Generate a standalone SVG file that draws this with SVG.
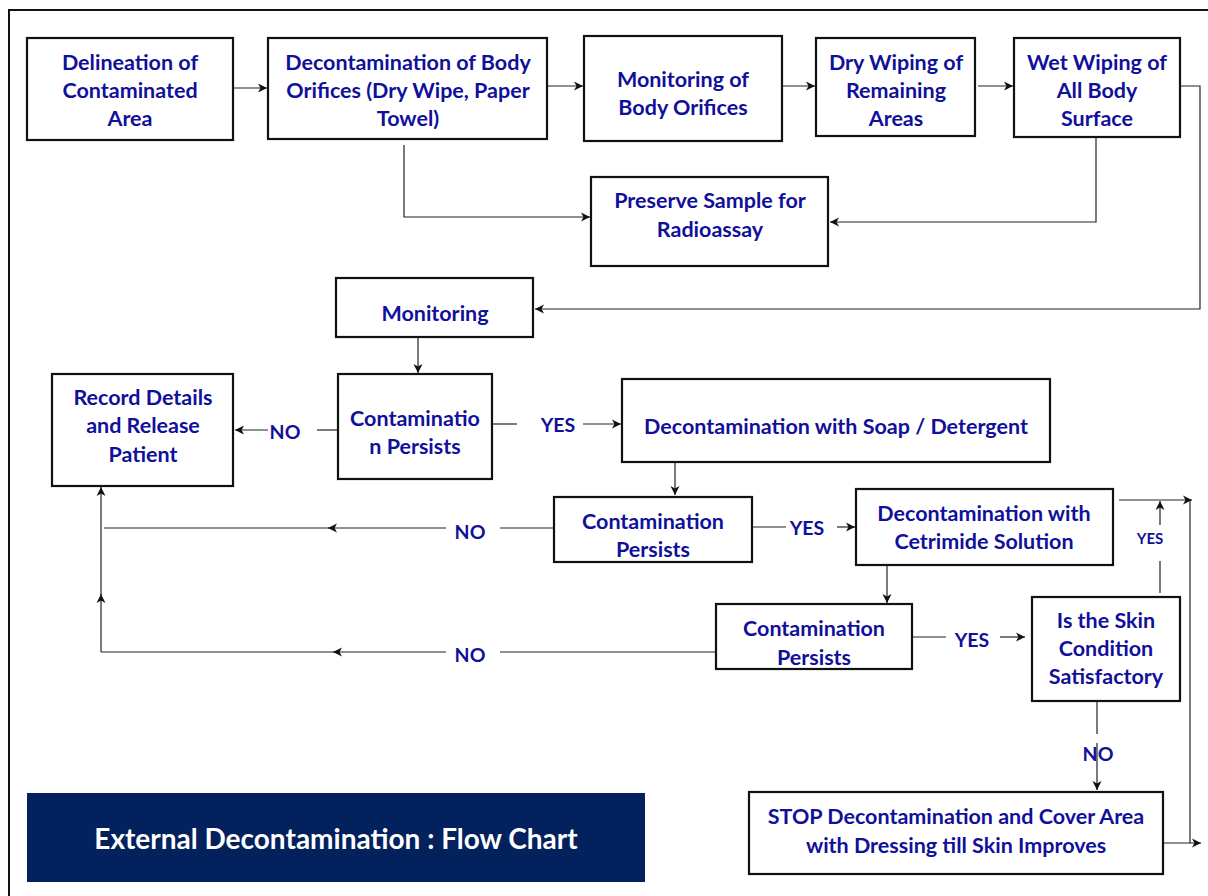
<svg xmlns="http://www.w3.org/2000/svg" width="1208" height="896" viewBox="0 0 1208 896">
<style>
.box{fill:#fff;stroke:#111;stroke-width:2.2}
.t{font-family:Lato,"Open Sans","Liberation Sans",sans-serif;font-weight:bold;font-size:21.5px;fill:#10109a;text-anchor:middle;dominant-baseline:central}
.lbl{font-family:Lato,"Open Sans","Liberation Sans",sans-serif;font-weight:bold;font-size:19.5px;fill:#10109a;text-anchor:middle;dominant-baseline:central}
.c{fill:none;stroke:#222;stroke-width:1.2}
.a{marker-end:url(#arr)}
</style>
<defs>
<marker id="arr" markerUnits="userSpaceOnUse" markerWidth="10" markerHeight="10" refX="9" refY="5" orient="auto">
<path d="M0,0.5 L9,5 L0,9.5 L2.5,5 Z" fill="#111"/>
</marker>
</defs>
<rect width="1208" height="896" fill="#fff"/>
<path d="M9,896 V10 H1208" fill="none" stroke="#111" stroke-width="2"/>

<g id="connectors">
<path class="c a" d="M233,88 H267"/>
<path class="c a" d="M547,86 H583"/>
<path class="c a" d="M782,86 H815"/>
<path class="c a" d="M978,86 H1013"/>
<path class="c a" d="M404,145 V217 H590"/>
<path class="c a" d="M1096,137 V222 H830"/>
<path class="c a" d="M1180,86 H1200 V309 H535"/>
<path class="c a" d="M418,338 V373"/>
<path class="c" d="M338,430 H317"/>
<path class="c a" d="M268,430 H235"/>
<path class="c" d="M492,424 H517"/>
<path class="c a" d="M583,424 H621"/>
<path class="c a" d="M675,462 V495"/>
<path class="c" d="M752,527 H786"/>
<path class="c a" d="M837,527 H855"/>
<path class="c" d="M554,528 H500"/>
<path class="c a" d="M446,528 H328"/>
<path class="c" d="M330,528 H104"/>
<path class="c a" d="M101,652 V594"/>
<path class="c a" d="M101,596 V487"/>
<path class="c" d="M716,652 H500"/>
<path class="c a" d="M446,652 H333"/>
<path class="c" d="M335,652 H101"/>
<path class="c a" d="M887,565 V603"/>
<path class="c" d="M913,637 H946"/>
<path class="c a" d="M1000,637 H1025"/>
<path class="c" d="M1160,593 V561"/>
<path class="c a" d="M1160,525 V501"/>
<path class="c a" d="M1119,500 H1192"/>
<path class="c" d="M1190,500 V843"/>
<path class="c a" d="M1163,843 H1201"/>
<path class="c" d="M1097,701 V734"/>
<path class="c a" d="M1097,743 V790"/>
<text class="lbl" x="285" y="431">NO</text>
<text class="lbl" x="558" y="424">YES</text>
<text class="lbl" x="807" y="527">YES</text>
<text class="lbl" x="470" y="531">NO</text>
<text class="lbl" x="470" y="654">NO</text>
<text class="lbl" x="972" y="639">YES</text>
<text class="lbl" x="1150" y="538" style="font-size:15px">YES</text>
<text class="lbl" x="1098" y="753">NO</text>
</g>

<g id="n1"><rect class="box" x="27" y="38" width="206" height="102"/>
<text class="t" x="130" y="62">Delineation of</text><text class="t" x="130" y="90">Contaminated</text><text class="t" x="130" y="118">Area</text></g>
<g id="n2"><rect class="box" x="268" y="38" width="279" height="101"/>
<text class="t" x="408" y="62">Decontamination of Body</text><text class="t" x="408" y="90">Orifices (Dry Wipe, Paper</text><text class="t" x="408" y="118">Towel)</text></g>
<g id="n3"><rect class="box" x="584" y="36" width="198" height="105"/>
<text class="t" x="683" y="79">Monitoring of</text><text class="t" x="683" y="107">Body Orifices</text></g>
<g id="n4"><rect class="box" x="816" y="38" width="159" height="98"/>
<text class="t" x="896" y="62">Dry Wiping of</text><text class="t" x="896" y="90">Remaining</text><text class="t" x="896" y="118">Areas</text></g>
<g id="n5"><rect class="box" x="1014" y="38" width="166" height="99"/>
<text class="t" x="1097" y="62">Wet Wiping of</text><text class="t" x="1097" y="90">All Body</text><text class="t" x="1097" y="118">Surface</text></g>
<g id="n6"><rect class="box" x="591" y="177" width="237" height="89"/>
<text class="t" x="710" y="200">Preserve Sample for</text><text class="t" x="710" y="229">Radioassay</text></g>
<g id="n7"><rect class="box" x="336" y="278" width="197" height="59"/>
<text class="t" x="435" y="313">Monitoring</text></g>
<g id="n8"><rect class="box" x="338" y="374" width="154" height="105"/>
<text class="t" x="415" y="418">Contaminatio</text><text class="t" x="415" y="446">n Persists</text></g>
<g id="n9"><rect class="box" x="52" y="374" width="181" height="112"/>
<text class="t" x="143" y="397">Record Details</text><text class="t" x="143" y="425">and Release</text><text class="t" x="143" y="454">Patient</text></g>
<g id="n10"><rect class="box" x="622" y="379" width="428" height="83"/>
<text class="t" x="836" y="426">Decontamination with Soap / Detergent</text></g>
<g id="n11"><rect class="box" x="554" y="497" width="198" height="65"/>
<text class="t" x="653" y="521">Contamination</text><text class="t" x="653" y="549">Persists</text></g>
<g id="n12"><rect class="box" x="856" y="489" width="257" height="76"/>
<text class="t" x="984" y="513">Decontamination with</text><text class="t" x="984" y="541">Cetrimide Solution</text></g>
<g id="n13"><rect class="box" x="716" y="604" width="196" height="65"/>
<text class="t" x="814" y="628">Contamination</text><text class="t" x="814" y="657">Persists</text></g>
<g id="n14"><rect class="box" x="1032" y="597" width="148" height="104"/>
<text class="t" x="1106" y="620">Is the Skin</text><text class="t" x="1106" y="648">Condition</text><text class="t" x="1106" y="676">Satisfactory</text></g>
<g id="n15"><rect class="box" x="749" y="792" width="414" height="82"/>
<text class="t" x="956" y="816">STOP Decontamination and Cover Area</text><text class="t" x="956" y="845">with Dressing till Skin Improves</text></g>
<g id="title"><rect x="27" y="793" width="618" height="89" fill="#03215c"/>
<text x="336" y="838" style="font-family:Lato,'Open Sans','Liberation Sans',sans-serif;font-weight:bold;font-size:28px;fill:#fff;text-anchor:middle;dominant-baseline:central">External Decontamination : Flow Chart</text></g>
</svg>
